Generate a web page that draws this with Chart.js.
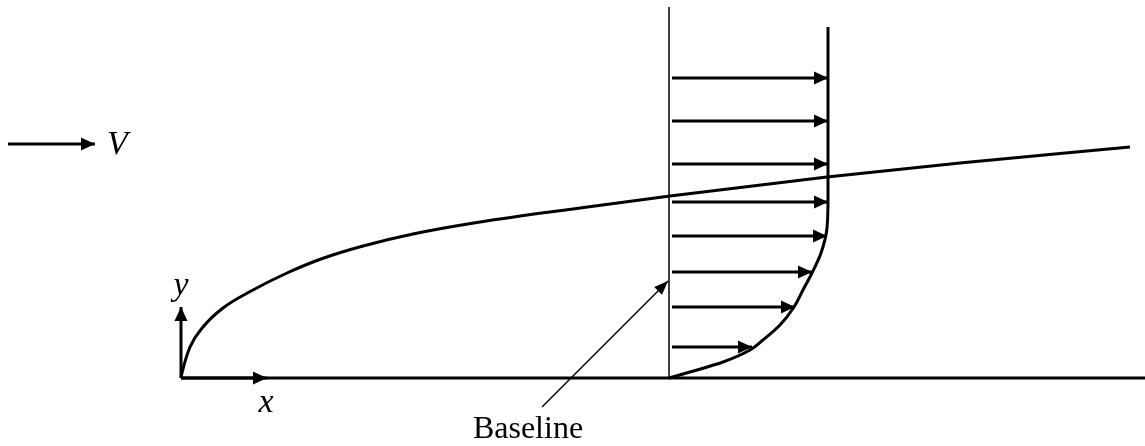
<!DOCTYPE html>
<html>
<head>
<meta charset="utf-8">
<script src="https://cdn.jsdelivr.net/npm/chart.js@4"></script>
<style>
  html, body { margin: 0; padding: 0; background: #fff; }
  #wrap { width: 1145px; height: 446px; position: relative; }
</style>
</head>
<body>
<div id="wrap"><canvas id="chart"></canvas></div>
<script>
// diagram units: x along the plate from the leading edge, y normal to the plate
const plateX = [0, 964];

// boundary layer edge delta(x)
const deltaX = [0, 1, 9, 22, 42, 72, 106, 140, 182, 232, 299, 399, 489, 646, 779, 949];
const deltaY = [0, 5, 31, 51, 70, 88, 105, 119, 132, 144, 156, 170, 182, 201, 215, 231];

// velocity profile at the station (u measured from the baseline), wall upwards
const stationX = 488;
const stationTop = 371;
const profileY = [0, 6, 16, 28, 38, 53, 71, 88, 105, 125, 150, 180, 351];
const profileU = [0, 21, 54, 81, 94, 111, 125, 134, 143, 152, 158, 159, 159];

// velocity vectors
const arrowY = [300, 257, 214, 176, 142, 106, 71, 31];
const arrowU = [159, 159, 159, 159, 158, 143, 126, 83];

// free stream arrow, coordinate arrows, baseline pointer
const freeStream = [[-173, 234], [-86, 234]];
const yAxisArrow = [[0, 0], [0, 71]];
const xAxisArrow = [[0, 0], [86, 0]];
const pointer = [[361, -29], [487, 97]];

const labels = [
  { text: 'V', x: -74, y: 233, align: 'left', font: 'italic 34px "Liberation Serif"' },
  { text: 'y', x: 0, y: 92, align: 'center', font: 'italic 34px "Liberation Serif"' },
  { text: 'x', x: 85, y: -25, align: 'center', font: 'italic 34px "Liberation Serif"' },
  { text: 'Baseline', x: 347, y: -52, align: 'center', font: '32px "Liberation Serif"' }
];

const toPts = arr => arr.map(p => ({ x: p[0], y: p[1] }));

function line(data, width, extra) {
  return Object.assign({
    data: data,
    showLine: true,
    borderColor: '#000',
    backgroundColor: '#000',
    borderWidth: width,
    pointRadius: 0,
    tension: 0,
    clip: false
  }, extra || {});
}

const datasets = [];
datasets.push(line(plateX.map(x => ({ x: x, y: 0 })), 3));
datasets.push(line(deltaX.map((x, i) => ({ x: x, y: deltaY[i] })), 3, { cubicInterpolationMode: 'monotone' }));
datasets.push(line([{ x: stationX, y: 0 }, { x: stationX, y: stationTop }], 1.5));
datasets.push(line(profileY.map((y, i) => ({ x: stationX + profileU[i], y: y })), 3,
  { indexAxis: 'y', cubicInterpolationMode: 'monotone' }));
arrowY.forEach((y, i) => {
  datasets.push(line([{ x: stationX + 3, y: y }, { x: stationX + arrowU[i], y: y }], 3, { arrow: [14, 6.5] }));
});
datasets.push(line(toPts(freeStream), 3, { arrow: [14, 6.5] }));
datasets.push(line(toPts(yAxisArrow), 3, { arrow: [14, 6.5] }));
datasets.push(line(toPts(xAxisArrow), 3, { arrow: [14, 6.5] }));
datasets.push(line(toPts(pointer), 1.5, { arrow: [14, 5.5] }));

const arrowHeads = {
  id: 'arrowHeads',
  afterDatasetsDraw(chart) {
    const ctx = chart.ctx;
    chart.data.datasets.forEach((ds, i) => {
      if (!ds.arrow) return;
      const pts = chart.getDatasetMeta(i).data;
      const a = pts[pts.length - 2], b = pts[pts.length - 1];
      const ang = Math.atan2(b.y - a.y, b.x - a.x);
      const [len, half] = ds.arrow;
      ctx.save();
      ctx.translate(b.x, b.y);
      ctx.rotate(ang);
      ctx.beginPath();
      ctx.moveTo(0, 0);
      ctx.lineTo(-len, -half);
      ctx.lineTo(-len, half);
      ctx.closePath();
      ctx.fillStyle = '#000';
      ctx.fill();
      ctx.restore();
    });
  }
};

const textLabels = {
  id: 'textLabels',
  afterDraw(chart) {
    const ctx = chart.ctx;
    const sx = chart.scales.x, sy = chart.scales.y;
    ctx.save();
    ctx.fillStyle = '#000';
    ctx.textBaseline = 'middle';
    labels.forEach(l => {
      ctx.font = l.font;
      ctx.textAlign = l.align;
      ctx.fillText(l.text, sx.getPixelForValue(l.x), sy.getPixelForValue(l.y));
    });
    ctx.restore();
  }
};

new Chart(document.getElementById('chart'), {
  type: 'scatter',
  data: { datasets: datasets },
  options: {
    responsive: true,
    maintainAspectRatio: false,
    animation: false,
    layout: { padding: 0 },
    plugins: { legend: { display: false }, tooltip: { enabled: false } },
    scales: {
      x: { type: 'linear', min: -181, max: 964, display: false },
      y: { type: 'linear', min: -68, max: 378, display: false }
    }
  },
  plugins: [arrowHeads, textLabels]
});
</script>
</body>
</html>
